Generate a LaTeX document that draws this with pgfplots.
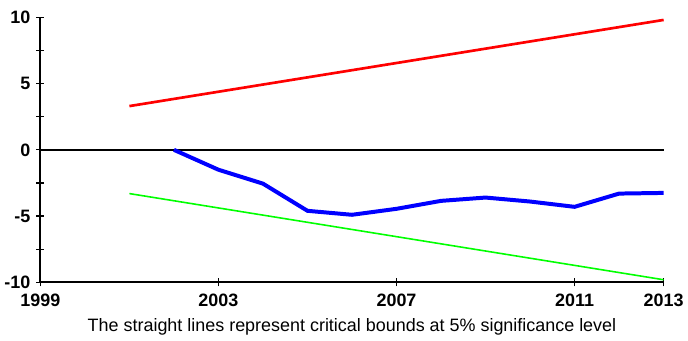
\documentclass[border=0pt]{standalone}
\usepackage{pgfplots}
\pgfplotsset{compat=1.18}
\usepackage{fontspec}
\setmainfont{Liberation Sans}
\begin{document}
\begin{tikzpicture}
\begin{axis}[
  scale only axis, width=469pt, height=199.5pt,
  xmin=1999, xmax=2013, ymin=-10, ymax=10,
  axis x line=bottom, axis y line=left,
  axis line style={-, line width=1.4pt},
  xtick={1999,2003,2007,2011,2013},
  xticklabels={1999,2003,2007,2011,2013},
  ytick={-10,-5,0,5,10},
  yticklabels={-10,-5,0,5,10},
  minor ytick={-7.5,-2.5,2.5,7.5},
  tick align=center,
  major tick length=6pt, minor tick length=6pt,
  every tick/.style={black, line width=1pt},
  ticklabel style={font=\fontsize{13.5}{14}\selectfont\bfseries},
  xticklabel style={yshift=-2pt},
  yticklabel style={xshift=-1pt},
  xlabel={The straight lines represent critical bounds at 5\% significance level},
  xlabel style={font=\fontsize{13.5}{14}\selectfont, yshift=-2.5pt},
  clip=false,
]
\addplot[black, line width=1.1pt] coordinates {(1999,0)(2013,0)};
\addplot[red, line width=2pt] coordinates {(2001,3.3)(2013,9.8)};
\addplot[green, line width=1.2pt] coordinates {(2001,-3.3)(2013,-9.8)};
\addplot[blue, line width=3pt] coordinates {
(2002,0)(2003,-1.5)(2004,-2.55)(2005,-4.6)(2006,-4.9)(2007,-4.45)(2008,-3.85)(2009,-3.6)(2010,-3.9)(2011,-4.3)(2012,-3.3)(2013,-3.25)};
\end{axis}
\path (current axis.north west) -- ++(0pt,13pt);
\end{tikzpicture}
\end{document}
